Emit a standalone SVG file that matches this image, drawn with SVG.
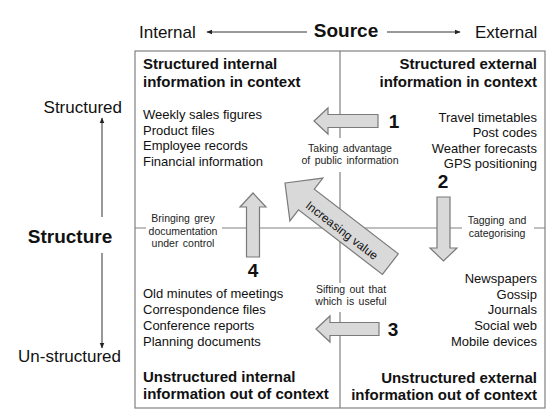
<svg xmlns="http://www.w3.org/2000/svg" width="559" height="420" viewBox="0 0 559 420">
<defs>
<marker id="ah" viewBox="0 0 10 10" refX="9" refY="5" markerWidth="6" markerHeight="6" orient="auto-start-reverse" markerUnits="userSpaceOnUse">
<path d="M0,1 L10,5 L0,9 Z" fill="#222"/>
</marker>
</defs>
<style>
text{font-family:"Liberation Sans",Arial,sans-serif;fill:#111}
.ax{font-size:17px}
.axb{font-size:19px;font-weight:bold}
.hd{font-size:15px;font-weight:bold}
.it{font-size:13px}
.sm{font-size:10.5px;word-spacing:1.5px;fill:#222}
.num{font-size:19px;font-weight:bold}
.r{text-anchor:end}
.c{text-anchor:middle}
.axis{stroke:#333;stroke-width:1;fill:none}
.grid{stroke:#808080;stroke-width:1.2;fill:none}
.blk{fill:#d9d9d9;stroke:#7a7a7a;stroke-width:1.2}
</style>
<rect width="559" height="420" fill="#fff"/>

<g id="source-axis">
<text class="ax" x="139" y="38">Internal</text>
<text class="axb c" x="346" y="37">Source</text>
<text class="ax" x="475" y="38">External</text>
<line class="axis" x1="307" y1="32" x2="207" y2="32" marker-end="url(#ah)"/>
<line class="axis" x1="387" y1="32" x2="460" y2="32" marker-end="url(#ah)"/>
</g>

<g id="structure-axis">
<text class="ax r" x="122" y="113">Structured</text>
<text class="axb c" x="70" y="243">Structure</text>
<text class="ax r" x="121" y="362">Un-structured</text>
<line class="axis" x1="102" y1="217" x2="102" y2="118" marker-end="url(#ah)"/>
<line class="axis" x1="102" y1="253" x2="102" y2="348" marker-end="url(#ah)"/>
</g>

<g id="grid">
<rect class="grid" x="135" y="51" width="410" height="357" stroke-width="1.5"/>
<path class="grid" d="M340,51 V138 M340,172 V283 M340,312 V408 M135,228 H146 M222,228 H462 M534,228 H545"/>
</g>

<g id="q-structured-internal">
<text class="hd" x="143" y="69">Structured internal</text>
<text class="hd" x="143" y="87">information in context</text>
<text class="it" x="143" y="119">Weekly sales figures</text>
<text class="it" x="143" y="135">Product files</text>
<text class="it" x="143" y="150">Employee records</text>
<text class="it" x="143" y="166">Financial information</text>
</g>

<g id="q-structured-external">
<text class="hd r" x="537" y="69">Structured external</text>
<text class="hd r" x="537" y="87">information in context</text>
<text class="it r" x="537" y="122">Travel timetables</text>
<text class="it r" x="537" y="137">Post codes</text>
<text class="it r" x="537" y="153">Weather forecasts</text>
<text class="it r" x="537" y="168">GPS positioning</text>
</g>

<g id="q-unstructured-internal">
<text class="it" x="143" y="298">Old minutes of meetings</text>
<text class="it" x="143" y="314">Correspondence files</text>
<text class="it" x="143" y="330">Conference reports</text>
<text class="it" x="143" y="346">Planning documents</text>
<text class="hd" x="143" y="382">Unstructured internal</text>
<text class="hd" x="143" y="399">information out of context</text>
</g>

<g id="q-unstructured-external">
<text class="it r" x="537" y="283">Newspapers</text>
<text class="it r" x="537" y="299">Gossip</text>
<text class="it r" x="537" y="314">Journals</text>
<text class="it r" x="537" y="330">Social web</text>
<text class="it r" x="537" y="346">Mobile devices</text>
<text class="hd r" x="537" y="383">Unstructured external</text>
<text class="hd r" x="537" y="400">information out of context</text>
</g>

<g id="connectors">
<g id="step1">
<polygon class="blk" points="314,121 328,108 328,114.5 378,114.5 378,127.5 328,127.5 328,134"/>
<text class="num c" x="394" y="128">1</text>
<text class="sm c" x="350" y="152">Taking advantage</text>
<text class="sm c" x="350" y="164">of public information</text>
</g>
<g id="step2">
<polygon class="blk" points="437,197 450,197 450,248 457,248 443.5,261 430,248 437,248"/>
<text class="num c" x="443" y="188">2</text>
<text class="sm c" x="497" y="224">Tagging and</text>
<text class="sm c" x="497" y="237">categorising</text>
</g>
<g id="step3">
<polygon class="blk" points="316,329 330,316 330,322.5 379,322.5 379,335.5 330,335.5 330,342"/>
<text class="num c" x="393" y="336">3</text>
<text class="sm c" x="351" y="293">Sifting out that</text>
<text class="sm c" x="351" y="305">which is useful</text>
</g>
<g id="step4">
<polygon class="blk" points="253,193 266,207 259.5,207 259.5,257 246.5,257 246.5,207 240,207"/>
<text class="num c" x="253" y="277">4</text>
<text class="sm c" x="183" y="222">Bringing grey</text>
<text class="sm c" x="183" y="235">documentation</text>
<text class="sm c" x="183" y="247">under control</text>
</g>
<g id="increasing-value" transform="translate(285,183) rotate(37.6)">
<polygon class="blk" points="0,0 27,-27 27,-13 133,-13 133,13 27,13 27,27"/>
<text class="c" x="74" y="7" style="font-size:12px">Increasing value</text>
</g>
</g>
</svg>
